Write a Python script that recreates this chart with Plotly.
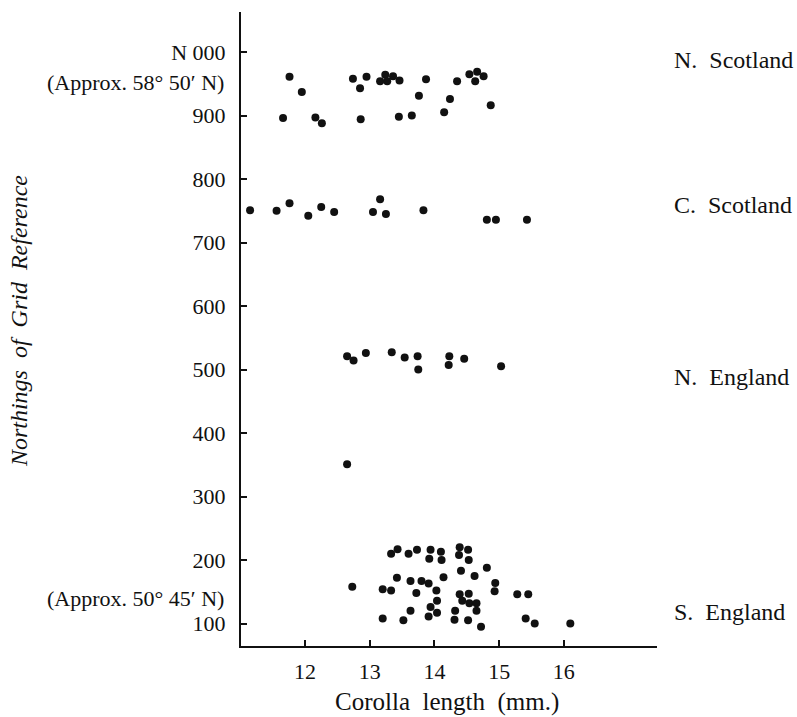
import plotly.graph_objects as go

# ---- data (corolla length mm, northing of grid reference) ----
ns_len = [11.76, 11.95, 11.66, 12.16, 12.26, 12.74, 12.85, 12.95, 12.86, 13.16, 13.24, 13.27, 13.36,
          13.46, 13.45, 13.65, 13.76, 13.87, 14.15, 14.24, 14.35, 14.54, 14.66, 14.63, 14.76, 14.87]
ns_north = [961, 937, 896, 897, 888, 958, 943, 961, 894, 954, 964, 954, 962,
            955, 898, 900, 931, 957, 905, 926, 954, 965, 969, 954, 962, 916]

cs_len = [11.15, 11.56, 11.76, 12.05, 12.25, 12.45, 13.05, 13.16, 13.25, 13.83, 14.81, 14.95, 15.43]
cs_north = [751, 750, 762, 742, 756, 748, 748, 768, 745, 751, 736, 736, 736]

ne_len = [12.65, 12.75, 12.94, 13.34, 13.54, 13.74, 13.75, 14.23, 14.22, 14.46, 15.03, 12.65]
ne_north = [521, 514, 526, 527, 519, 521, 500, 521, 507, 517, 505, 351]

se_len = [13.33, 13.43, 13.60, 13.73, 13.94, 13.92, 14.10, 14.11, 14.39, 14.38, 14.52, 14.53,
          14.81, 14.41, 14.62, 14.14, 13.42, 13.63, 13.80, 13.91, 14.03, 13.20, 13.33, 13.72,
          14.94, 14.93, 15.28, 14.39, 14.53, 14.43, 14.54, 14.65, 14.04, 13.94, 14.65, 13.63,
          14.04, 13.91, 14.32, 14.31, 14.52, 13.20, 13.52, 14.72, 12.73, 15.45, 15.41, 15.55, 16.10]
se_north = [210, 217, 210, 216, 216, 202, 213, 200, 220, 208, 216, 200,
            188, 183, 175, 173, 172, 167, 167, 163, 152, 154, 152, 148,
            164, 151, 146, 146, 147, 136, 132, 132, 136, 126, 120, 120,
            117, 111, 120, 106, 105, 108, 105, 95, 158, 146, 108, 100, 100]

x_ticks = [12, 13, 14, 15, 16]
y_ticks = [100, 200, 300, 400, 500, 600, 700, 800, 900, 1000]
y_ticktext = ["100", "200", "300", "400", "500", "600", "700", "800", "900", "N 000"]

regions = ["N.  Scotland", "C.  Scotland", "N.  England", "S.  England"]
region_y = [988, 759, 489, 118]

approx_text = ["(Approx. 58° 50′ N)", "(Approx. 50° 45′ N)"]
approx_y = [952, 140]

FONT = "Liberation Serif"
INK = "#111111"

fig = go.Figure()
for xs, ys in [(ns_len, ns_north), (cs_len, cs_north), (ne_len, ne_north), (se_len, se_north)]:
    fig.add_trace(go.Scatter(
        x=xs, y=ys, mode="markers",
        marker=dict(size=8, color=INK, line=dict(width=0)),
        showlegend=False, hoverinfo="x+y"))

for t, yv in zip(regions, region_y):
    fig.add_annotation(text=t, x=1.036, xref="paper", y=yv, yref="y",
                       xanchor="left", yanchor="middle", showarrow=False,
                       font=dict(family=FONT, size=24, color=INK))

for t, yv in zip(approx_text, approx_y):
    fig.add_annotation(text=t, x=-0.036, xref="paper", y=yv, yref="y",
                       xanchor="right", yanchor="middle", showarrow=False,
                       font=dict(family=FONT, size=22, color=INK))

fig.add_annotation(text="Corolla  length  (mm.)", x=0.494, xref="paper", y=-0.0885, yref="paper",
                   xanchor="center", yanchor="middle", showarrow=False,
                   font=dict(family=FONT, size=25, color=INK))
fig.add_annotation(text="<i>Northings  of  Grid  Reference</i>", x=-0.532, xref="paper",
                   y=0.512, yref="paper", xanchor="center", yanchor="middle",
                   textangle=-90, showarrow=False,
                   font=dict(family=FONT, size=24, color=INK))

fig.update_layout(
    width=797, height=717,
    margin=dict(l=241, r=140, t=12, b=71),
    paper_bgcolor="white", plot_bgcolor="white",
    font=dict(family=FONT, size=22, color=INK),
    xaxis=dict(range=[11.01, 17.44], tickvals=x_ticks, ticktext=[str(v) for v in x_ticks],
               showgrid=False, zeroline=False, showline=True, linecolor=INK, linewidth=2,
               ticks="inside", ticklen=6, tickwidth=1.5, tickcolor=INK,
               ticklabelstandoff=5, tickfont=dict(family=FONT, size=22, color=INK)),
    yaxis=dict(range=[64.6, 1063], tickvals=y_ticks, ticktext=y_ticktext,
               showgrid=False, zeroline=False, showline=True, linecolor=INK, linewidth=2,
               ticks="inside", ticklen=6, tickwidth=1.5, tickcolor=INK,
               ticklabelstandoff=9, tickfont=dict(family=FONT, size=22, color=INK)),
)

fig.write_html("out.html", config={"displayModeBar": False},
               post_script="document.body.style.margin='0';document.body.style.padding='0';")
